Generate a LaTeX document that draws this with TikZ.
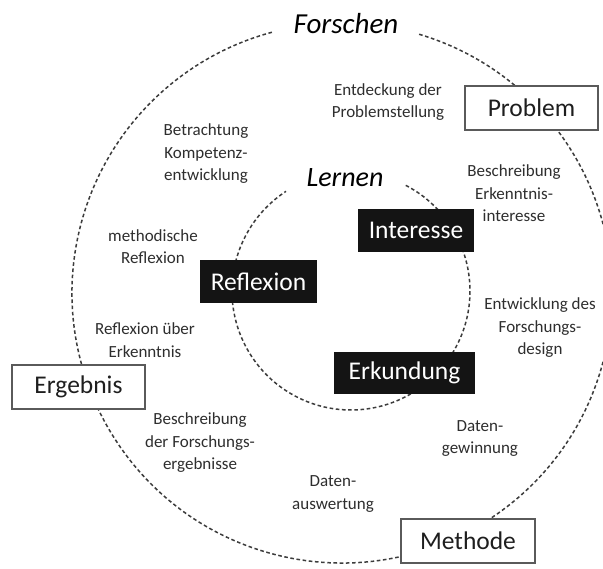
\documentclass[tikz,border=0pt]{standalone}
\usepackage{fontspec}
\setmainfont{Carlito}
\definecolor{dashcol}{HTML}{3C3C3C}
\definecolor{smalltext}{HTML}{2E2E2E}
\definecolor{boxborder}{HTML}{5A5A5A}
\definecolor{boxfill}{HTML}{141414}
\definecolor{labeltext}{HTML}{1E1E1E}
\tikzset{
  ring/.style={draw=dashcol, line width=1.5pt, dash pattern=on 3.6pt off 2.6pt},
  outerbox/.style={draw=boxborder, line width=1.2pt, fill=white, inner sep=0pt,
    text=labeltext, font=\fontsize{25.5}{30}\selectfont},
  innerbox/.style={fill=boxfill, inner sep=0pt, text=white,
    font=\fontsize{25.5}{30}\selectfont},
  note/.style={align=center, inner sep=0pt, text=smalltext,
    font=\fontsize{17}{22.5}\selectfont},
  title/.style={inner sep=0pt, text=black, font=\itshape\fontsize{29}{34}\selectfont}
}
\begin{document}
\begin{tikzpicture}[x=1pt, y=-1pt]
\useasboundingbox (0,0) rectangle (603,569);
\fill[white] (0,0) rectangle (603,569);

% outer ring (Forschen)
\coordinate (oc) at (342,293);
\draw[ring] (oc) ++(-73.4:270) arc[start angle=-73.4, end angle=255.3, radius=270];
% inner ring (Lernen)
\coordinate (ic) at (351,291);
\draw[ring] (ic) ++(-62.6:119) arc[start angle=-62.6, end angle=236.9, radius=119];

% titles
\node[title] (forschen) at (346,24) {Forschen};
\node[title, font=\itshape\fontsize{28}{33}\selectfont] (lernen) at (345,178) {Lernen};

% outer boxes
\node[outerbox, minimum width=133pt, minimum height=44pt] (problem) at (531.5,108) {Problem};
\node[outerbox, minimum width=133pt, minimum height=44pt] (ergebnis) at (78.5,387) {Ergebnis};
\node[outerbox, minimum width=134pt, minimum height=44pt] (methode) at (468,541) {Methode};

% inner boxes
\node[innerbox, minimum width=116pt, minimum height=43pt] (interesse) at (416,230.5) {Interesse};
\node[innerbox, minimum width=117pt, minimum height=43pt] (reflexion) at (258.5,281.5) {Reflexion};
\node[innerbox, minimum width=141pt, minimum height=42pt] (erkundung) at (404.5,373) {Erkundung};

% notes
\node[note] (n1) at (388,102) {Entdeckung der\\Problemstellung};
\node[note] (n2) at (206,154) {Betrachtung\\Kompetenz-\\entwicklung};
\node[note] (n3) at (514,193.5) {Beschreibung\\Erkenntnis-\\interesse};
\node[note] (n4) at (153,246.5) {methodische\\Reflexion};
\node[note] (n5) at (540,328) {Entwicklung des\\Forschungs-\\design};
\node[note] (n6) at (145,340) {Reflexion über\\Erkenntnis};
\node[note] (n7) at (200,443) {Beschreibung\\der Forschungs-\\ergebnisse};
\node[note] (n8) at (480,438.5) {Daten-\\gewinnung};
\node[note] (n9) at (333,494) {Daten-\\auswertung};
\end{tikzpicture}
\end{document}
